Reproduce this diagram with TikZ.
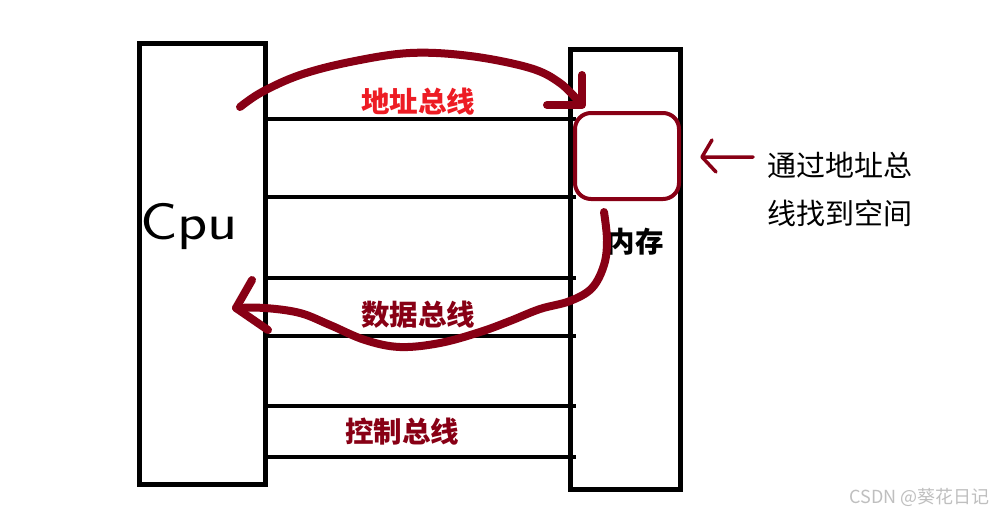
\documentclass[tikz,border=0pt]{standalone}
\usepackage{fontspec}
\newfontfamily\cjk{Noto Sans CJK SC}
\usetikzlibrary{calc}
\definecolor{pdark}{HTML}{880015}
\definecolor{pred}{HTML}{ED1C24}
\begin{document}
\begin{tikzpicture}[x=1pt,y=-1pt,
  box/.style={draw=black,line width=5pt},
  bus/.style={draw=black,line width=4.5pt},
  stroke/.style={draw=pdark,line width=8pt,line cap=round,line join=round},
  lbl/.style={font=\cjk\bfseries\fontsize{28.5}{32}\selectfont},
  note/.style={font=\cjk\fontsize{29}{34}\selectfont,anchor=west,inner sep=0pt}]
\useasboundingbox[fill=white] (0,0) rectangle (993,515);
% boxes
\draw[box] (139.5,43) rectangle (265.5,484);
\draw[box] (570,49) rectangle (680,489);
% buses
\foreach \y in {119,197,278,336,406,457}{\draw[bus] (265.5,\y) -- (576,\y);}
% memory cell
\node[draw=pdark,line width=4pt,rounded corners=16pt,minimum width=104pt,minimum height=86pt,inner sep=0pt] (cell) at (627,156) {};
% labels
\node[lbl,text=pred] (addr) at (418,102) {地址总线};
\node[lbl,text=pdark] (data) at (418,315) {数据总线};
\node[lbl,text=pdark] (ctrl) at (402,432) {控制总线};
\node[lbl,text=black] (mem) at (635,242) {内存};
\node[font=\sffamily\fontsize{52}{56}\selectfont,inner sep=0pt,xscale=1.2] (cpu) at (189,226) {Cpu};
\node[note] (n1) at (767,165) {通过地址总};
\node[note] (n2) at (767,213) {线找到空间};
\node[font=\cjk\fontsize{18}{21}\selectfont,text=black!25,anchor=east,inner sep=0pt] (wm) at (990,497) {CSDN @葵花日记};
% pointer arrow
\coordinate (pa) at (753,157);
\coordinate (pb) at (702,157);
\draw[draw=pdark,line width=3.5pt,line cap=round,line join=round] (pa) -- (pb) (712,140) -- (pb) -- (716,172);
% top curved arrow
\draw[stroke] plot[smooth,tension=0.6] coordinates {(240,107) (262,92) (300,75) (350,62) (410,53) (470,56) (530,68) (560,83) (580,103)};
\draw[stroke] (547,105) -- (582,105) -- (582,75);
% bottom curved arrow
\draw[stroke] plot[smooth,tension=0.6] coordinates {(604,212) (607,240) (604,265) (592,288) (570,301) (540,309) (510,321) (480,332) (440,343) (400,347) (365,340) (330,325) (300,313) (265,308) (236,308)};
\draw[stroke] (252,280) -- (236,308) -- (268,330);
\end{tikzpicture}
\end{document}
